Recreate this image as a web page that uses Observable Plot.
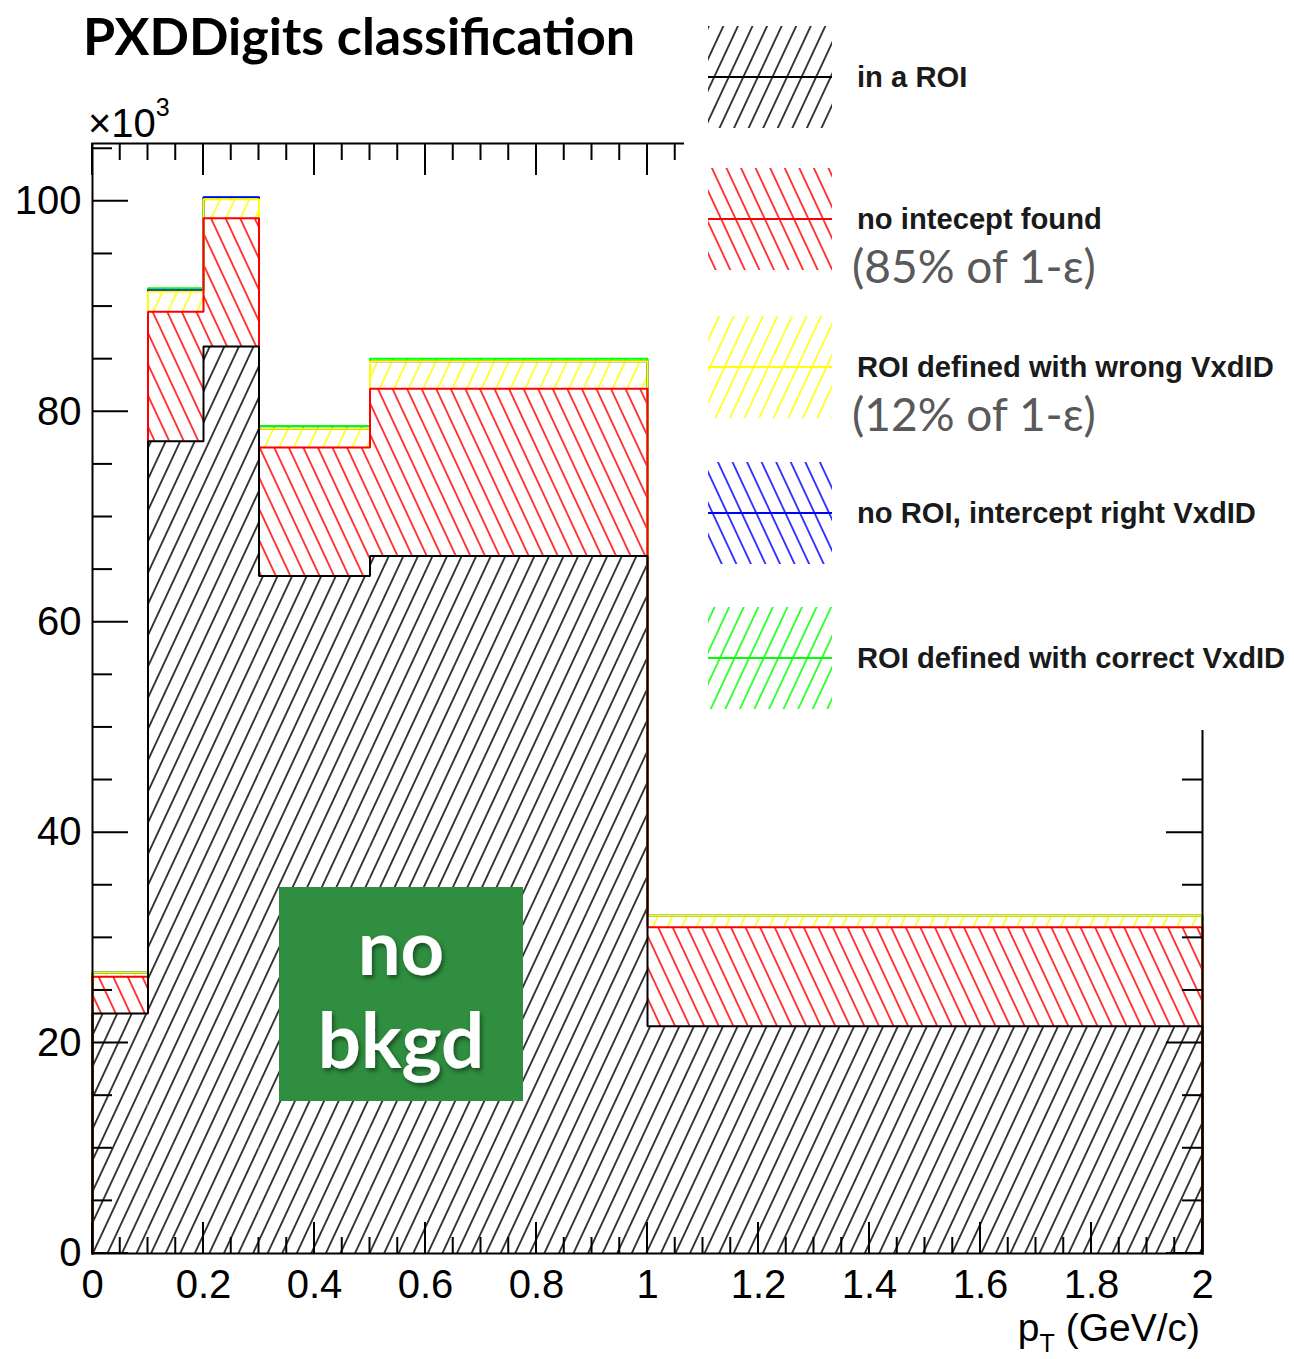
<!DOCTYPE html>
<html>
<head>
<meta charset="utf-8">
<script src="https://cdn.jsdelivr.net/npm/d3@7"></script>
<script src="https://cdn.jsdelivr.net/npm/@observablehq/plot@0.6"></script>
<style>
  html, body { margin: 0; padding: 0; background: #fff; overflow: hidden; }
  #chart svg { display: block; }
</style>
</head>
<body>
<div id="chart"></div>
<script>
// pT bin edges (GeV/c) of the variable-width histogram
const binEdges = [0, 0.1, 0.2, 0.3, 0.5, 1, 2];

// PXDDigits per bin, in units of 10^3, stacked bottom to top
const inROI        = [22.8, 77.2, 86.2, 64.4, 66.3, 21.6];
const noIntercept  = [3.5, 12.3, 12.2, 12.2, 15.9, 9.4];
const wrongVxdID   = [0.4, 1.9, 1.8, 1.8, 2.6, 1.1];
const noROIright   = [0.0, 0.15, 0.2, 0.0, 0.0, 0.0];
const correctVxdID = [0.0, 0.2, 0.0, 0.25, 0.25, 0.0];

const seriesValues = [inROI, noIntercept, wrongVxdID, noROIright, correctVxdID];
const seriesNames = [
  "in a ROI",
  "no intecept found",
  "ROI defined with wrong VxdID",
  "no ROI, intercept right VxdID",
  "ROI defined with correct VxdID"
];
const seriesColors = ["#000000", "#ff0000", "#ffff00", "#0000ff", "#00ff00"];
const hatchSlant = ["/", "\\", "/", "\\", "/"];
const shareNotes = [null, "(85% of 1-ε)", "(12% of 1-ε)", null, null];

// axis ticks
const yTicks = [0, 20, 40, 60, 80, 100];
const yTickLabels = ["0", "20", "40", "60", "80", "100"];
const xTicks = [0, 0.2, 0.4, 0.6, 0.8, 1, 1.2, 1.4, 1.6, 1.8, 2];
const xTickLabels = ["0", "0.2", "0.4", "0.6", "0.8", "1", "1.2", "1.4", "1.6", "1.8", "2"];
const xMinorStep = 0.05;
const yMinorStep = 5;

const W = 1294, H = 1359;
const M = {left: 92, right: 92, top: 143, bottom: 106};
const yMax = 105.5;

// cumulative stacking of the five classes
const nBins = binEdges.length - 1;
const bands = [];
const tops = seriesValues.map(() => []);
for (let b = 0; b < nBins; ++b) {
  let base = 0;
  seriesValues.forEach((vals, s) => {
    const top = base + vals[b];
    bands.push({s, x1: binEdges[b], x2: binEdges[b + 1], y1: base, y2: top});
    tops[s].push(top);
    base = top;
  });
}

// step outline of each cumulative histogram
function outline(s) {
  const pts = [{x: binEdges[0], y: 0}];
  for (let b = 0; b < nBins; ++b) {
    pts.push({x: binEdges[b], y: tops[s][b]});
    pts.push({x: binEdges[b + 1], y: tops[s][b]});
  }
  pts.push({x: binEdges[nBins], y: 0});
  return pts;
}

const hatchMarks = seriesValues.map((_, s) =>
  Plot.rect(bands.filter(d => d.s === s), {
    x1: "x1", x2: "x2", y1: "y1", y2: "y2",
    fill: `url(#hatch-${s})`
  })
);

// outlines: the highest sum first, the lower ones drawn over it
const outlineMarks = seriesValues.map((_, s) => s).reverse().map(s =>
  Plot.line(outline(s), {
    x: "x", y: "y",
    stroke: seriesColors[s], strokeWidth: 2,
    strokeLinejoin: "miter", strokeLinecap: "square"
  })
);

const plot = Plot.plot({
  width: W, height: H,
  marginLeft: M.left, marginRight: M.right, marginTop: M.top, marginBottom: M.bottom,
  x: {domain: [0, 2], axis: null},
  y: {domain: [0, yMax], axis: null},
  style: {background: "#fff", fontFamily: "'Liberation Sans', Arial, Helvetica, sans-serif", color: "#000"},
  marks: [
    ...hatchMarks,
    ...outlineMarks,
    Plot.frame({stroke: "#000", strokeWidth: 2}),
    Plot.text(yTicks, {
      x: 0, y: d => d, text: (d, i) => yTickLabels[i],
      textAnchor: "end", dx: -11, lineAnchor: "middle", fontSize: 40, fill: "#000"
    }),
    Plot.text(xTicks, {
      x: d => d, y: 0, text: (d, i) => xTickLabels[i],
      dy: 32, lineAnchor: "middle", fontSize: 40, fill: "#000"
    })
  ]
});

document.getElementById("chart").appendChild(plot);

const svg = d3.select(plot);
const sx = plot.scale("x"), sy = plot.scale("y");
const X = v => sx.apply(v), Y = v => sy.apply(v);

// hatch patterns
const defs = svg.insert("defs", ":first-child");
const period = 13.2;
seriesColors.forEach((c, s) => {
  const p = defs.append("pattern")
    .attr("id", `hatch-${s}`)
    .attr("patternUnits", "userSpaceOnUse")
    .attr("width", period).attr("height", period)
    .attr("patternTransform", `rotate(${hatchSlant[s] === "/" ? 25 : -25})`);
  p.append("line")
    .attr("x1", period / 2).attr("x2", period / 2)
    .attr("y1", -1).attr("y2", period + 1)
    .attr("stroke", c).attr("stroke-width", 1.5);
});
const shadow = defs.append("filter").attr("id", "txtshadow")
  .attr("x", "-20%").attr("y", "-20%").attr("width", "140%").attr("height", "140%");
shadow.append("feDropShadow").attr("dx", 2).attr("dy", 3).attr("stdDeviation", 2)
  .attr("flood-color", "#000").attr("flood-opacity", 0.45);

// inward ticks on all four sides of the frame
const ticks = svg.append("g").attr("stroke", "#000").attr("stroke-width", 2);
const xMinor = d3.range(0, 2 + 1e-9, xMinorStep);
const yMinor = d3.range(0, yMax, yMinorStep);
const isMajorX = v => xTicks.some(t => Math.abs(t - v) < 1e-6);
const isMajorY = v => yTicks.some(t => Math.abs(t - v) < 1e-6);
const yTop = Y(yMax), yBot = Y(0), xL = X(0), xR = X(2);
xMinor.forEach(v => {
  const L = isMajorX(v) ? 31 : 16;
  ticks.append("line").attr("x1", X(v)).attr("x2", X(v)).attr("y1", yBot).attr("y2", yBot - L);
  ticks.append("line").attr("x1", X(v)).attr("x2", X(v)).attr("y1", yTop).attr("y2", yTop + L + 1);
});
yMinor.forEach(v => {
  const L = isMajorY(v) ? 36 : 20;
  ticks.append("line").attr("y1", Y(v)).attr("y2", Y(v)).attr("x1", xL).attr("x2", xL + L);
  ticks.append("line").attr("y1", Y(v)).attr("y2", Y(v)).attr("x1", xR).attr("x2", xR - L);
});

// annotation layer: plain left-anchored text unless stated
const notes = svg.append("g").attr("text-anchor", "start");

// axis extras
notes.append("text").attr("x", 88).attr("y", 137)
  .attr("font-family", "'Liberation Sans', Arial, sans-serif").attr("font-size", 40)
  .text("×10")
  .append("tspan").attr("font-size", 25).attr("dy", -21).text("3");

const xt = notes.append("text").attr("x", 1200).attr("y", 1341)
  .attr("text-anchor", "end")
  .attr("font-family", "'Liberation Sans', Arial, sans-serif").attr("font-size", 39);
xt.append("tspan").text("p");
xt.append("tspan").attr("font-size", 25).attr("dy", 11).text("T");
xt.append("tspan").attr("dy", -11).text(" (GeV/c)");

// legend panel
const leg = notes.append("g");
leg.append("rect").attr("x", 684).attr("y", 0).attr("width", W - 684).attr("height", 730).attr("fill", "#fff");
const legCenters = [77, 219, 367, 513, 658];
seriesNames.forEach((name, s) => {
  const cy = legCenters[s];
  leg.append("rect").attr("x", 708).attr("y", cy - 51).attr("width", 124).attr("height", 102)
    .attr("fill", `url(#hatch-${s})`);
  leg.append("line").attr("x1", 708).attr("x2", 832).attr("y1", cy).attr("y2", cy)
    .attr("stroke", seriesColors[s]).attr("stroke-width", 2);
  leg.append("text").attr("x", 857).attr("y", cy + 10)
    .attr("font-family", "'Liberation Sans', Arial, sans-serif")
    .attr("font-weight", 700).attr("font-size", 29.2).attr("fill", "#1a1a1a")
    .text(name);
  if (shareNotes[s]) {
    leg.append("text").attr("x", 852).attr("y", cy + 64)
      .attr("font-family", "Lato, 'Open Sans', sans-serif")
      .attr("font-size", 46).attr("fill", "#595959")
      .text(shareNotes[s]);
  }
});

// title
notes.append("text").attr("x", 83).attr("y", 55)
  .attr("font-family", "Lato, 'Open Sans', sans-serif").attr("font-weight", 700)
  .attr("font-size", 52).attr("fill", "#000")
  .text("PXDDigits classification");

// "no bkgd" badge
const badge = notes.append("g");
badge.append("rect").attr("x", 279).attr("y", 887).attr("width", 244).attr("height", 214).attr("fill", "#2f8e3f");
[["no", 975], ["bkgd", 1068]].forEach(([t, yb]) => {
  badge.append("text").attr("x", 401).attr("y", yb).attr("text-anchor", "middle")
    .attr("font-family", "Lato, 'Open Sans', sans-serif").attr("font-weight", 700)
    .attr("font-size", 76).attr("fill", "#fff").attr("filter", "url(#txtshadow)")
    .text(t);
});
</script>
</body>
</html>
